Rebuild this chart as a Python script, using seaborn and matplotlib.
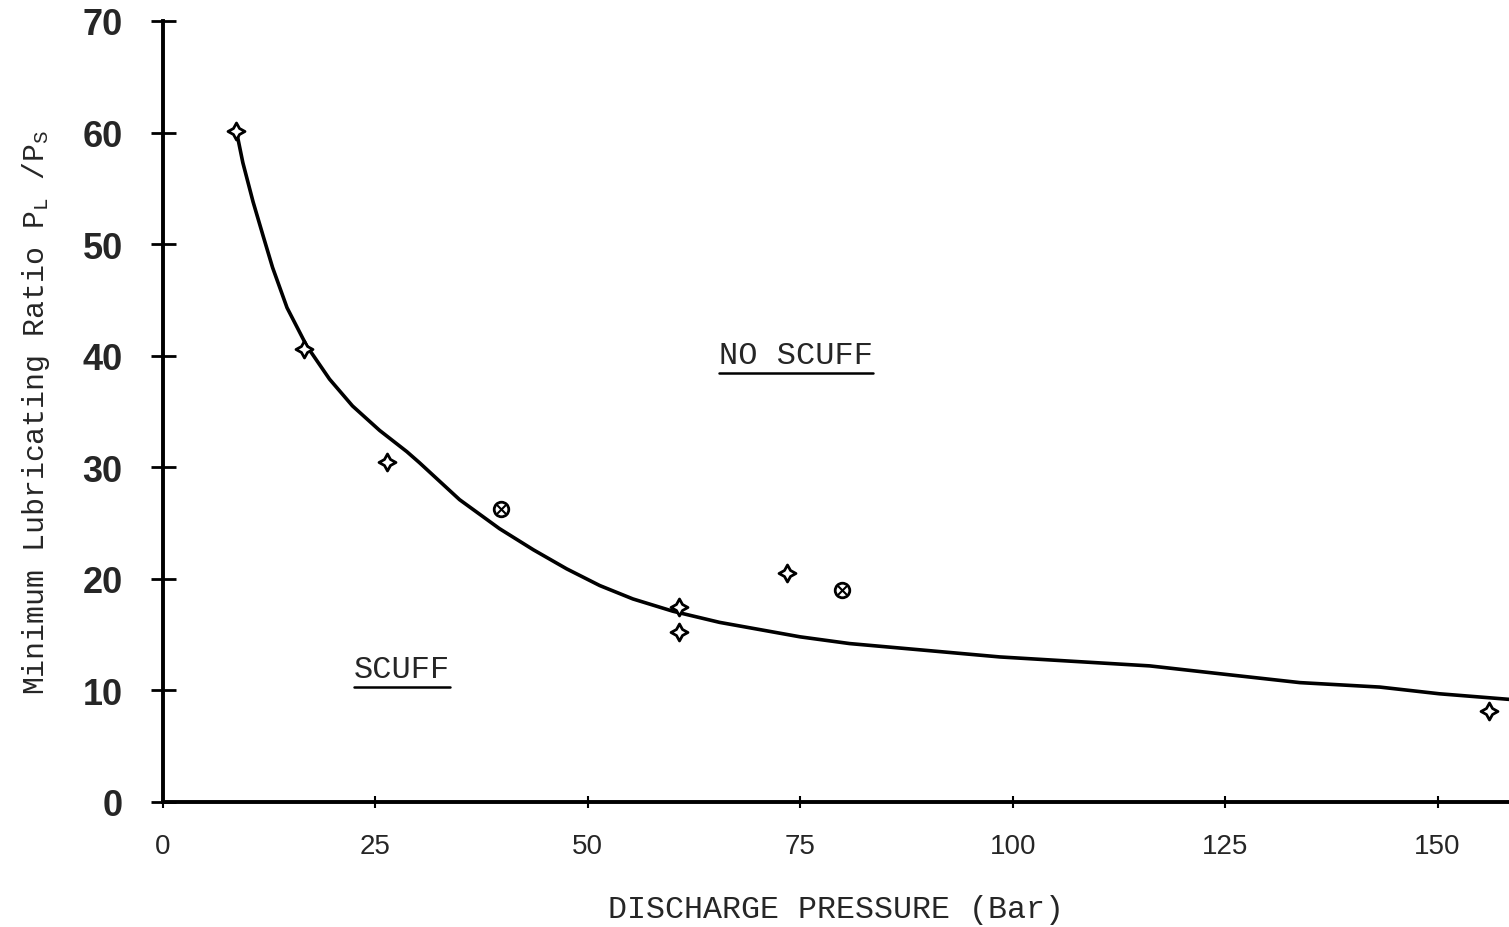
import matplotlib
matplotlib.use("Agg")
import matplotlib.pyplot as plt
import seaborn as sns
from matplotlib.lines import Line2D

# Test points: discharge pressure (bar) vs minimum lubricating ratio
star_x = [8.6, 16.6, 26.4, 60.7, 60.7, 73.4, 156.0]
star_y = [60.1, 40.6, 30.5, 17.5, 15.2, 20.5, 8.2]
circ_x = [39.8, 79.9]
circ_y = [26.3, 19.0]

# Boundary curve between scuff and no-scuff regions
curve_x = [8.7, 9.4, 10.6, 11.8, 12.9, 14.6, 16.9, 19.6, 22.3, 25.5, 28.7,
           30.2, 34.9, 39.6, 43.6, 47.5, 51.4, 55.3, 60.0, 65.5, 75.0, 80.8,
           98.5, 116.1, 125.5, 133.8, 143.2, 150.2, 158.4]
curve_y = [59.9, 57.3, 53.8, 50.7, 47.9, 44.3, 40.9, 37.9, 35.5, 33.3, 31.4,
           30.4, 27.1, 24.5, 22.6, 20.9, 19.4, 18.2, 17.1, 16.1, 14.8, 14.2,
           13.0, 12.2, 11.4, 10.7, 10.3, 9.7, 9.2]

x_ticks = [0, 25, 50, 75, 100, 125, 150]
y_ticks = [0, 10, 20, 30, 40, 50, 60, 70]

sns.set_style("white")
plt.rcParams["mathtext.fontset"] = "custom"
plt.rcParams["mathtext.rm"] = "Liberation Mono"
plt.rcParams["mathtext.it"] = "Liberation Mono"

fig = plt.figure(figsize=(15.09, 9.28), dpi=100)
ax = fig.add_axes([0.108, 0.1347, 0.892, 0.8416])

sns.lineplot(x=curve_x, y=curve_y, ax=ax, color="black", linewidth=2.6,
             sort=False, estimator=None)
sns.scatterplot(x=star_x, y=star_y, ax=ax, marker=(4, 1, 0), s=150,
                facecolor="white", edgecolor="black", linewidth=2, zorder=5)
sns.scatterplot(x=circ_x, y=circ_y, ax=ax, marker="o", s=110,
                facecolor="white", edgecolor="black", linewidth=2, zorder=5)
sns.scatterplot(x=circ_x, y=circ_y, ax=ax, marker="x", s=40,
                color="black", linewidth=1.5, zorder=6)

ax.set_xlim(0, 158.4)
ax.set_ylim(0, 70)
ax.set_xticks(x_ticks)
ax.set_yticks(y_ticks)
ax.set_xticklabels([str(v) for v in x_ticks], fontsize=20,
                   family="Liberation Sans")
ax.set_yticklabels([str(v) for v in y_ticks], fontsize=26,
                   family="Liberation Sans", fontweight="bold")
ax.tick_params(axis="x", bottom=True, direction="inout", length=9, width=1.5,
               pad=18, color="black")
ax.tick_params(axis="y", left=True, direction="inout", length=18, width=2,
               pad=20, color="black")

for side in ("top", "right"):
    ax.spines[side].set_visible(False)
for side in ("left", "bottom"):
    ax.spines[side].set_linewidth(2.8)
    ax.spines[side].set_color("black")

ax.set_xlabel("DISCHARGE PRESSURE (Bar)", family="Liberation Mono",
              fontsize=22.8, labelpad=25)
ax.set_ylabel(r"Minimum Lubricating Ratio P$_L$ /P$_S$",
              family="Liberation Mono", fontsize=21.5, labelpad=22)

t1 = ax.text(74.5, 40.1, "NO SCUFF", family="Liberation Mono", fontsize=23,
             ha="center", va="center")
t2 = ax.text(28.1, 11.9, "SCUFF", family="Liberation Mono", fontsize=23,
             ha="center", va="center")

# Underline the region labels
fig.canvas.draw()
renderer = fig.canvas.get_renderer()
for t in (t1, t2):
    bb = t.get_window_extent(renderer)
    y0 = bb.y0 - 3
    fig.add_artist(Line2D([bb.x0 / fig.bbox.width, bb.x1 / fig.bbox.width],
                          [y0 / fig.bbox.height, y0 / fig.bbox.height],
                          color="black", linewidth=1.8))

fig.savefig("out.png", dpi=100)
